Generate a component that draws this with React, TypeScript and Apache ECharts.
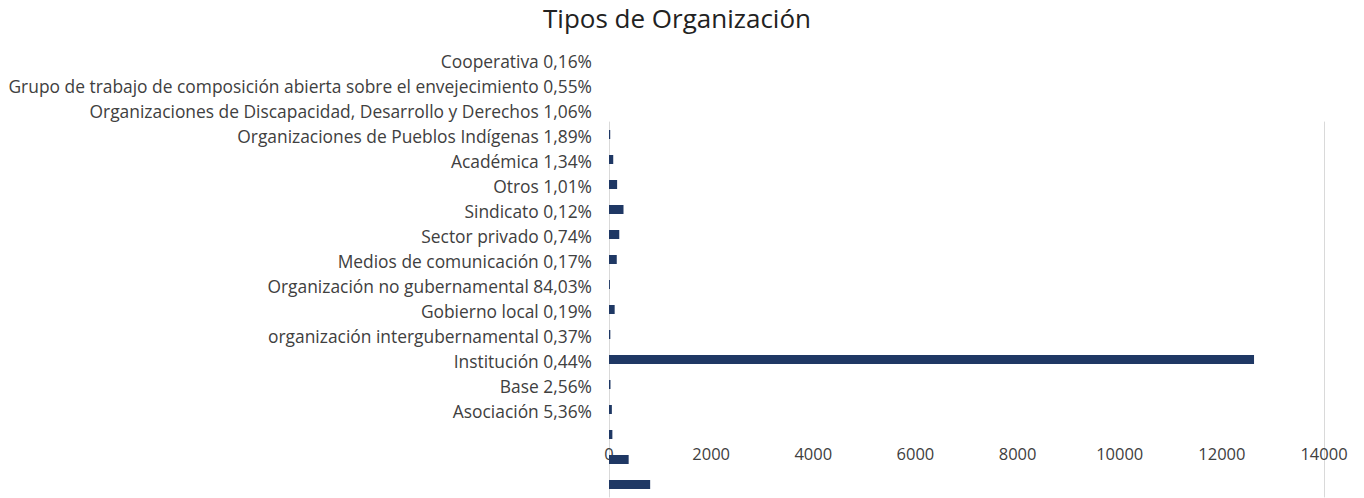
import React, { useEffect, useRef } from "react";
import * as echarts from "echarts";

const categories = [
  "Cooperativa 0,16%",
  "Grupo de trabajo de composición abierta sobre el envejecimiento 0,55%",
  "Organizaciones de Discapacidad, Desarrollo y Derechos 1,06%",
  "Organizaciones de Pueblos Indígenas 1,89%",
  "Académica 1,34%",
  "Otros 1,01%",
  "Sindicato 0,12%",
  "Sector privado 0,74%",
  "Medios de comunicación 0,17%",
  "Organización no gubernamental 84,03%",
  "Gobierno local 0,19%",
  "organización intergubernamental 0,37%",
  "Institución 0,44%",
  "Base 2,56%",
  "Asociación 5,36%",
];

const values = [24, 83, 159, 284, 201, 152, 18, 111, 26, 12630, 29, 56, 66, 385, 806];

const xTicks = { min: 0, max: 14000, interval: 2000 };

const FONT = "Open Sans";

export default function App() {
  const ref = useRef<HTMLDivElement>(null);
  useEffect(() => {
    if (!ref.current) return;
    const chart = echarts.init(ref.current, null, { renderer: "svg" });
    chart.setOption({
      animation: false,
      backgroundColor: "#ffffff",
      title: {
        text: "Tipos de Organización",
        left: 538,
        top: 0,
        textStyle: { fontFamily: FONT, fontSize: 26, fontWeight: "normal", color: "#222" },
      },
      grid: [
        { left: 609, right: 40, top: 122, height: 375 },
        { left: 0, width: 609, top: 48, height: 375 },
      ],
      xAxis: [
        {
          gridIndex: 0,
          type: "value",
          min: xTicks.min,
          max: xTicks.max,
          interval: xTicks.interval,
          offset: -44,
          axisLine: { show: false },
          axisTick: { show: false },
          splitLine: { show: false },
          axisLabel: {
            margin: 0,
            verticalAlign: "middle",
            fontFamily: FONT,
            fontSize: 16.5,
            color: "#404040",
            formatter: (v: number) => String(v),
          },
        },
        { gridIndex: 1, type: "value", show: false },
      ],
      yAxis: [
        {
          gridIndex: 0,
          type: "category",
          inverse: true,
          data: categories,
          axisLine: { show: true, lineStyle: { color: "#d9d9d9", width: 1 } },
          axisTick: { show: false },
          axisLabel: { show: false },
        },
        {
          gridIndex: 0,
          type: "category",
          position: "right",
          inverse: true,
          data: categories,
          axisLine: { show: true, lineStyle: { color: "#d9d9d9", width: 1 } },
          axisTick: { show: false },
          axisLabel: { show: false },
        },
        {
          gridIndex: 1,
          type: "category",
          position: "right",
          inverse: true,
          data: categories,
          axisLine: { show: false },
          axisTick: { show: false },
          axisLabel: {
            inside: true,
            margin: 17,
            align: "right",
            fontFamily: FONT,
            fontSize: 17.4,
            color: "#404040",
          },
        },
      ],
      series: [
        {
          type: "bar",
          xAxisIndex: 0,
          yAxisIndex: 0,
          data: values,
          barWidth: 9,
          itemStyle: { color: "#1f3864" },
        },
      ],
    });
    return () => chart.dispose();
  }, []);
  return <div ref={ref} style={{ width: 1364, height: 498, position: "absolute", left: 0, top: 0 }} />;
}
